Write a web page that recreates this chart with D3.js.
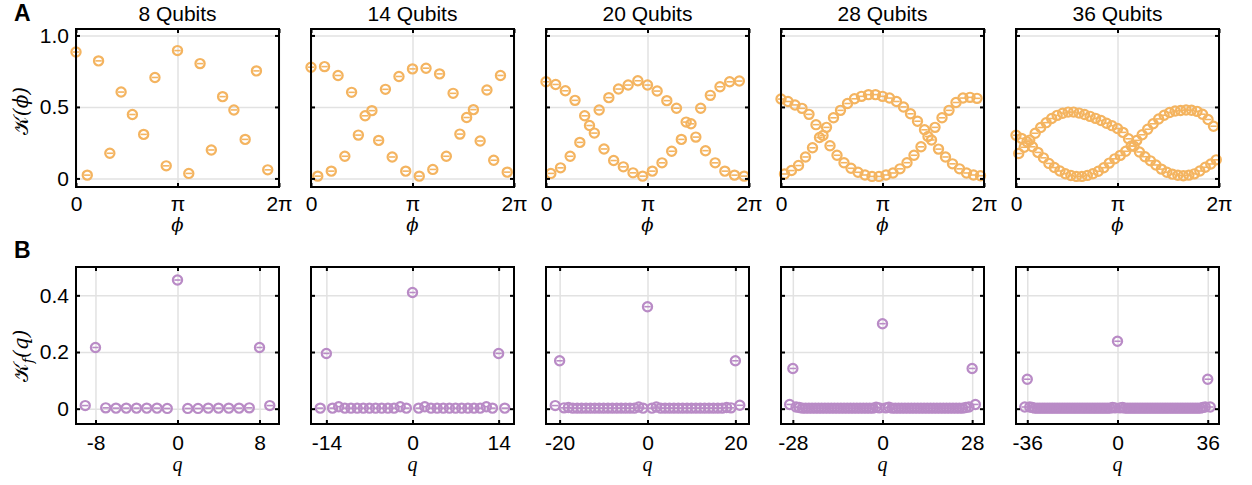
<!DOCTYPE html>
<html><head><meta charset="utf-8">
<script src="https://cdn.jsdelivr.net/npm/d3@7"></script>
<style>body{margin:0;background:#fff}</style></head>
<body><svg id="c" width="1252" height="485"></svg>
<script>
// ---------- data ----------
const panelTitles = ["8 Qubits", "14 Qubits", "20 Qubits", "28 Qubits", "36 Qubits"];
const qubitCounts = [8, 14, 20, 28, 36];
const phiTickValues = [0, Math.PI, 2 * Math.PI];
const phiTickLabels = ["0", "π", "2π"];
const kTickValues = [0, 0.5, 1];
const kTickLabels = ["0", "0.5", "1.0"];
const kfTickValues = [0, 0.2, 0.4];
const kfTickLabels = ["0", "0.2", "0.4"];

// K(phi), points evenly spaced on [0, 2pi)
const K8 = [0.884, 0.023, 0.822, 0.176, 0.604, 0.447, 0.308, 0.706, 0.088,
  0.894, 0.035, 0.803, 0.199, 0.572, 0.479, 0.273, 0.752, 0.060];
const K14 = [0.778, 0.016, 0.782, 0.051, 0.720, 0.155, 0.602, 0.303, 0.438, 0.474,
  0.266, 0.623, 0.150, 0.713, 0.051, 0.766, 0.016, 0.771, 0.063, 0.731,
  0.155, 0.595, 0.310, 0.426, 0.481, 0.262, 0.618, 0.127, 0.720, 0.044];
const K20 = [0.676, 0.035, 0.657, 0.074, 0.613, 0.155, 0.546, 0.252, 0.438, 0.370,
  0.317, 0.479, 0.206, 0.565, 0.125, 0.625, 0.081, 0.653, 0.039, 0.683,
  0.016, 0.653, 0.051, 0.611, 0.109, 0.544, 0.190, 0.491, 0.273, 0.394,
  0.382, 0.289, 0.491, 0.194, 0.581, 0.109, 0.641, 0.051, 0.676, 0.023,
  0.681, 0.016];
const K28 = [0.555, 0.031, 0.538, 0.055, 0.514, 0.090, 0.490, 0.150, 0.448, 0.214,
  0.376, 0.286, 0.300, 0.357, 0.229, 0.424, 0.162, 0.476, 0.110, 0.524,
  0.071, 0.557, 0.043, 0.574, 0.024, 0.586, 0.014, 0.586, 0.014, 0.574,
  0.024, 0.562, 0.038, 0.538, 0.067, 0.500, 0.110, 0.452, 0.162, 0.400,
  0.221, 0.340, 0.293, 0.269, 0.357, 0.205, 0.424, 0.150, 0.476, 0.102,
  0.531, 0.067, 0.562, 0.038, 0.567, 0.024, 0.560, 0.019];
const K36 = [0.302, 0.174, 0.280, 0.218, 0.256, 0.268, 0.221, 0.316, 0.182, 0.356,
  0.144, 0.390, 0.105, 0.419, 0.076, 0.441, 0.052, 0.456, 0.033, 0.464,
  0.020, 0.464, 0.014, 0.457, 0.014, 0.447, 0.021, 0.434, 0.033, 0.420,
  0.050, 0.405, 0.075, 0.386, 0.107, 0.369, 0.137, 0.349, 0.161, 0.322,
  0.190, 0.277, 0.227, 0.225, 0.266, 0.185, 0.305, 0.152, 0.344, 0.123,
  0.382, 0.094, 0.416, 0.065, 0.442, 0.043, 0.461, 0.030, 0.471, 0.022,
  0.475, 0.019, 0.478, 0.023, 0.477, 0.032, 0.469, 0.052, 0.449, 0.078,
  0.412, 0.101, 0.365, 0.130];

// Fourier components K_f(q), q from -(N+1) to N+1
const KF8 = [0.011, 0.216, 0.003, 0.002, 0.002, 0.002, 0.002, 0.002, 0.001, 0.454,
  0.001, 0.001, 0.002, 0.002, 0.002, 0.002, 0.003, 0.216, 0.011];
const KF14 = [0.002, 0.195, 0.002, 0.007, 0.002, 0.002, 0.002, 0.002, 0.002, 0.002,
  0.002, 0.002, 0.002, 0.007, 0.002, 0.410, 0.002, 0.007, 0.002, 0.002,
  0.002, 0.002, 0.002, 0.002, 0.002, 0.002, 0.002, 0.007, 0.002, 0.195, 0.002];
const KF20 = [0.011, 0.169, 0.003, 0.004, 0.002, 0.002, 0.002, 0.002, 0.002, 0.002,
  0.002, 0.002, 0.002, 0.002, 0.002, 0.002, 0.002, 0.002, 0.002, 0.006,
  0.002, 0.360, 0.002, 0.006, 0.002, 0.002, 0.002, 0.002, 0.002, 0.002,
  0.002, 0.002, 0.002, 0.002, 0.002, 0.002, 0.002, 0.002, 0.002, 0.004,
  0.003, 0.169, 0.012];
const KF28 = [0.015, 0.142, 0.006, 0.004, 0.002, 0.002, 0.002, 0.002, 0.002, 0.002,
  0.002, 0.002, 0.002, 0.002, 0.002, 0.002, 0.002, 0.002, 0.002, 0.002,
  0.002, 0.002, 0.002, 0.002, 0.002, 0.002, 0.002, 0.005, 0.003, 0.300,
  0.003, 0.005, 0.002, 0.002, 0.002, 0.002, 0.002, 0.002, 0.002, 0.002,
  0.002, 0.002, 0.002, 0.002, 0.002, 0.002, 0.002, 0.002, 0.002, 0.002,
  0.002, 0.002, 0.002, 0.002, 0.002, 0.004, 0.006, 0.142, 0.015];
const KF36 = [0.006, 0.104, 0.006, 0.004, 0.002, 0.002, 0.002, 0.002, 0.002, 0.002,
  0.002, 0.002, 0.002, 0.002, 0.002, 0.002, 0.002, 0.002, 0.002, 0.002,
  0.002, 0.002, 0.002, 0.002, 0.002, 0.002, 0.002, 0.002, 0.002, 0.002,
  0.002, 0.002, 0.002, 0.002, 0.002, 0.004, 0.003, 0.238, 0.003, 0.004,
  0.002, 0.002, 0.002, 0.002, 0.002, 0.002, 0.002, 0.002, 0.002, 0.002,
  0.002, 0.002, 0.002, 0.002, 0.002, 0.002, 0.002, 0.002, 0.002, 0.002,
  0.002, 0.002, 0.002, 0.002, 0.002, 0.002, 0.002, 0.002, 0.002, 0.002,
  0.002, 0.004, 0.006, 0.104, 0.006];
const kSeries = [K8, K14, K20, K28, K36];
const kfSeries = [KF8, KF14, KF20, KF28, KF36];
const qDomainHalf = [9.9, 16.5, 23.1, 31.7, 40.5];

// ---------- layout ----------
const W = 1252, H = 485;
const panelLefts = [76, 311, 546, 781, 1016];
const panelW = 203;
const topY0 = 29, topY1 = 187;
const botY0 = 267, botY1 = 424;
const orange = "#F4B460", purple = "#B98BC6";
const gridColor = "#e2e2e2";
const FONT = "'Liberation Sans', Arial, sans-serif";
const FS = 21;
const TFS = 21;

const svg = d3.select("#c");
svg.append("rect").attr("width", W).attr("height", H).attr("fill", "#fff");

function drawGrid(g, x, y, w, h, xt, yt) {
  g.append("g").attr("transform", `translate(0,${h})`)
    .call(d3.axisBottom(x).tickValues(xt).tickSize(-h).tickFormat(""))
    .call(s => s.select(".domain").remove())
    .call(s => s.selectAll("line").attr("stroke", gridColor).attr("stroke-width", 1.5));
  g.append("g")
    .call(d3.axisLeft(y).tickValues(yt).tickSize(-w).tickFormat(""))
    .call(s => s.select(".domain").remove())
    .call(s => s.selectAll("line").attr("stroke", gridColor).attr("stroke-width", 1.5));
}

function frameAxes(g, x, y, w, h, xt, xl, yt, yl, showY, xPad) {
  g.append("rect").attr("width", w).attr("height", h)
    .attr("fill", "none").attr("stroke", "#000").attr("stroke-width", 2);
  const styleAx = s => {
    s.select(".domain").remove();
    s.selectAll("line").attr("stroke", "#000").attr("stroke-width", 2);
    s.selectAll("text").attr("font-family", FONT).attr("font-size", FS).attr("fill", "#000");
  };
  g.append("g").attr("transform", `translate(0,${h})`)
    .call(d3.axisBottom(x).tickValues(xt).tickSize(-4).tickPadding(xPad).tickFormat((d, i) => xl[i]))
    .call(styleAx);
  g.append("g")
    .call(d3.axisTop(x).tickValues(xt).tickSize(-4).tickFormat(""))
    .call(styleAx);
  g.append("g")
    .call(d3.axisLeft(y).tickValues(yt).tickSize(-4).tickPadding(7).tickFormat((d, i) => showY ? yl[i] : ""))
    .call(styleAx);
  g.append("g").attr("transform", `translate(${w},0)`)
    .call(d3.axisRight(y).tickValues(yt).tickSize(-4).tickFormat(""))
    .call(styleAx);
}

function markers(g, pts, x, y, color) {
  const m = g.append("g").selectAll("g").data(pts).join("g")
    .attr("transform", d => `translate(${x(d[0])},${y(d[1])})`);
  m.append("circle").attr("r", 4.6).attr("fill", "none")
    .attr("stroke", color).attr("stroke-width", 2.2);
  m.append("line").attr("x1", -3.2).attr("x2", 3.2).attr("y1", 0).attr("y2", 0)
    .attr("stroke", color).attr("stroke-width", 1.6);
}

for (let p = 0; p < 5; p++) {
  const left = panelLefts[p];
  // ---- top row ----
  {
    const w = panelW, h = topY1 - topY0;
    const x = d3.scaleLinear().domain([0, 2 * Math.PI]).range([0, w]);
    const y = d3.scaleLinear().domain([-0.06, 1.045]).range([h, 0]);
    const g = svg.append("g").attr("transform", `translate(${left},${topY0})`);
    drawGrid(g, x, y, w, h, phiTickValues, kTickValues);
    const data = kSeries[p];
    const pts = data.map((v, i) => [i * 2 * Math.PI / data.length, v]);
    markers(g, pts, x, y, orange);
    frameAxes(g, x, y, w, h, phiTickValues, phiTickLabels, kTickValues, kTickLabels, p === 0, 9);
    svg.append("text").attr("x", left + w / 2).attr("y", 21).attr("text-anchor", "middle")
      .attr("font-family", FONT).attr("font-size", TFS).text(panelTitles[p]);
    svg.append("text").attr("x", left + w / 2).attr("y", 231).attr("text-anchor", "middle")
      .attr("font-family", "'DejaVu Serif', 'Liberation Serif', serif").attr("font-style", "italic")
      .attr("font-size", 18).text("ϕ");
  }
  // ---- bottom row ----
  {
    const w = panelW, h = botY1 - botY0;
    const N = qubitCounts[p];
    const x = d3.scaleLinear().domain([-qDomainHalf[p], qDomainHalf[p]]).range([0, w]);
    const y = d3.scaleLinear().domain([-0.054, 0.5]).range([h, 0]);
    const g = svg.append("g").attr("transform", `translate(${left},${botY0})`);
    const xt = [-N, 0, N];
    const xl = [String(-N), "0", String(N)];
    drawGrid(g, x, y, w, h, xt, kfTickValues);
    const data = kfSeries[p];
    const pts = data.map((v, i) => [i - (N + 1), v]);
    markers(g, pts, x, y, purple);
    frameAxes(g, x, y, w, h, xt, xl, kfTickValues, kfTickLabels, p === 0, 11);
    svg.append("text").attr("x", left + w / 2).attr("y", 471).attr("text-anchor", "middle")
      .attr("font-family", "'Liberation Serif', serif").attr("font-style", "italic")
      .attr("font-size", 20).text("q");
  }
}

// panel letters
svg.append("text").attr("x", 14).attr("y", 21).attr("font-family", FONT)
  .attr("font-weight", "bold").attr("font-size", 23).text("A");
svg.append("text").attr("x", 14).attr("y", 258).attr("font-family", FONT)
  .attr("font-weight", "bold").attr("font-size", 23).text("B");

// y labels
const yl1 = svg.append("text").attr("transform", "translate(28,111) rotate(-90)")
  .attr("text-anchor", "middle").attr("font-size", 20)
  .attr("font-family", "'DejaVu Serif', 'Liberation Serif', serif");
yl1.append("tspan").text("𝒦");
yl1.append("tspan").attr("font-style", "italic").text("(ϕ)");
const yl2 = svg.append("text").attr("transform", "translate(28,356) rotate(-90)")
  .attr("text-anchor", "middle").attr("font-size", 20)
  .attr("font-family", "'DejaVu Serif', 'Liberation Serif', serif");
yl2.append("tspan").text("𝒦");
yl2.append("tspan").attr("font-style", "italic").attr("font-size", 14).attr("dy", 5).text("f");
yl2.append("tspan").attr("font-style", "italic").attr("dy", -5).text("(q)");
</script></body></html>
